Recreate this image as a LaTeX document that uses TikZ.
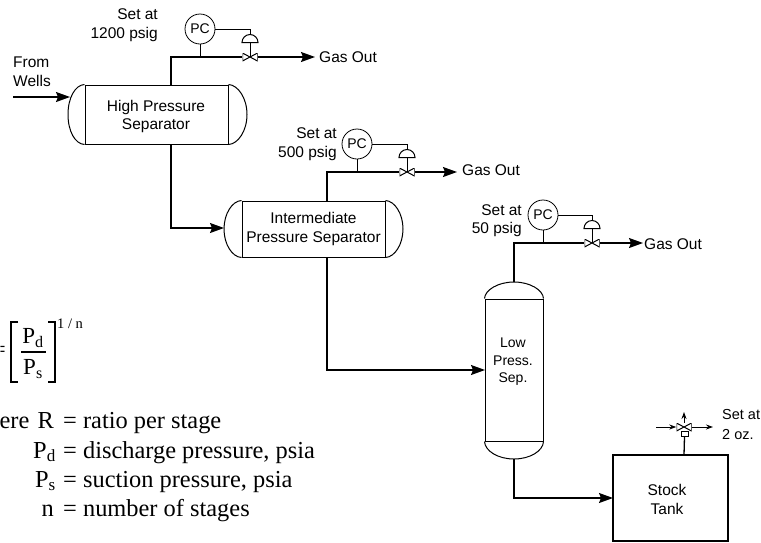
\documentclass[tikz,border=0pt]{standalone}
\usepackage{fontspec}
\setmainfont{Liberation Sans}
\newfontfamily\serifface{Liberation Serif}
\usetikzlibrary{arrows.meta, shapes.geometric, calc}

\begin{document}
\begin{tikzpicture}[
    x=1pt, y=-1pt,
    lbl/.style={inner sep=0pt, font=\fontsize{15.5}{17}\selectfont, text=black},
    lblr/.style={lbl, anchor=east},
    lbll/.style={lbl, anchor=west},
    formula/.style={inner sep=0pt, font=\fontsize{24.4}{26}\selectfont\serifface, text=black},
    vessel/.style={rectangle, draw=black, line width=1pt, inner sep=0pt, font=\fontsize{15.5}{18.5}\selectfont, text=black, align=center},
    head/.style={draw=black, line width=1pt},
    tank/.style={rectangle, draw=black, line width=1.1pt, inner sep=0pt, minimum width=115pt, minimum height=86pt},
    pc/.style={circle, draw=black, line width=0.8pt, inner sep=0pt, minimum size=30pt, font=\fontsize{14}{16}\selectfont, text=black},
    valve/.style={inner sep=0pt, minimum width=15pt, minimum height=8pt, path picture={
        \draw[black, line width=1pt, fill=white] (path picture bounding box.north west) -- (path picture bounding box.south east) -- (path picture bounding box.north east) -- (path picture bounding box.south west) -- cycle;}},
    dome/.style={semicircle, draw=black, line width=1pt, inner sep=0pt, minimum width=15pt, minimum height=8pt},
    pipe/.style={draw=black, line width=1.3pt},
    signal/.style={draw=black, line width=0.8pt},
    arrow/.style={pipe, -{Stealth[length=14pt, width=10pt, inset=2pt]}},
    smallarrow/.style={draw=black, line width=0.9pt, -{Stealth[length=7pt, width=5pt]}},
    bracket/.style={draw=black, line width=1.1pt}
]
\useasboundingbox (0,0) rectangle (761,542);

% vessels
\node (hp) [vessel, minimum width=143pt, minimum height=59pt] at (156.5,114.5) {};
\node (hplbl) [lbl, align=center, font=\fontsize{15.5}{18.5}\selectfont] at (156,116.5) {High Pressure\\Separator};
\draw [head] (hp.north west) .. controls (75,85) and (68,98) .. (68,114.5) .. controls (68,131) and (75,144) .. (hp.south west);
\draw [head] (hp.north east) .. controls (238,85) and (247,98) .. (247,114.5) .. controls (247,131) and (238,144) .. (hp.south east);
\node (ip) [vessel, minimum width=143pt, minimum height=56pt] at (313.5,229) {Intermediate\\Pressure Separator};
\draw [head] (ip.north west) .. controls (232,201) and (224,214) .. (224,229) .. controls (224,244) and (232,257) .. (ip.south west);
\draw [head] (ip.north east) .. controls (395,201) and (403,214) .. (403,229) .. controls (403,244) and (395,257) .. (ip.south east);
\node (lp) [vessel, minimum width=58pt, minimum height=142pt] at (514,370) {};
\node (lplbl) [lbl, font=\fontsize{14}{17.5}\selectfont, align=center] at (513,362) {Low\\Press.\\Sep.};
\draw [head] (lp.north west) .. controls (485,290) and (498,282) .. (514,282) .. controls (530,282) and (543,290) .. (lp.north east);
\draw [head] (lp.south west) .. controls (485,451) and (498,459) .. (514,459) .. controls (530,459) and (543,451) .. (lp.south east);
\node (st) [tank] at (670.5,498) {};
\node (stlbl) [lbl, align=center, font=\fontsize{15.5}{19}\selectfont] at (667,499) {Stock\\Tank};

% pressure control stations
\node (pc1) [pc] at (200,29) {PC};
\node (v1) [valve] at (250,57) {};
\node (d1) [dome, anchor=chord center] at (250,43) {};
\node (gas1) [lbll] at (319,57) {Gas Out};
\node (pc2) [pc] at (357,144) {PC};
\node (v2) [valve] at (407,172) {};
\node (d2) [dome, anchor=chord center] at (407,158) {};
\node (gas2) [lbll] at (462,170) {Gas Out};
\node (pc3) [pc] at (543,215) {PC};
\node (v3) [valve] at (592,243) {};
\node (d3) [dome, anchor=chord center] at (592,229) {};
\node (gas3) [lbll] at (644,244) {Gas Out};

\node (set1a) [lblr] at (158,14) {Set at};
\node (set1b) [lblr] at (158,34) {1200 psig};
\node (set2a) [lblr] at (337,133) {Set at};
\node (set2b) [lblr] at (337,153) {500 psig};
\node (set3a) [lblr] at (522,210) {Set at};
\node (set3b) [lblr] at (522,229) {50 psig};
\node (from) [lbll] at (13,62) {From};
\node (wells) [lbll] at (13,81) {Wells};

% feed and liquid lines
\coordinate (feed) at (13,97);
\coordinate (hpin) at (70,97);
\coordinate (hptop) at (171,85);
\coordinate (hpbot) at (171,144);
\coordinate (ipin) at (224,228);
\coordinate (iptop) at (327,201);
\coordinate (ipbot) at (327,257);
\coordinate (lpin) at (485,370);
\coordinate (lptop) at (514,282);
\coordinate (lpbot) at (514,459);
\coordinate (stin) at (613,498);
\draw [arrow] (feed) -- (hpin);
\draw [arrow] (hpbot) |- (ipin);
\draw [arrow] (ipbot) |- (lpin);
\draw [arrow] (lpbot) |- (stin);

% gas lines
\draw [pipe] (hptop) |- (v1.west);
\draw [arrow, shorten >=4pt] (v1.east) -- (gas1.west);
\draw [signal] (pc1.south) -- (pc1 |- v1);
\draw [signal] (pc1.east) -| (d1.apex);
\draw [signal] (d1.chord center) -- (v1.center);
\draw [pipe] (iptop) |- (v2.west);
\draw [arrow, shorten >=5pt] (v2.east) -- (gas2.west |- v2);
\draw [signal] (pc2.south) -- (pc2 |- v2);
\draw [signal] (pc2.east) -| (d2.apex);
\draw [signal] (d2.chord center) -- (v2.center);
\draw [pipe] (lptop) |- (v3.west);
\draw [arrow, shorten >=1pt] (v3.east) -- (gas3.west |- v3);
\draw [signal] (pc3.south) -- (pc3 |- v3);
\draw [signal] (pc3.east) -| (d3.apex);
\draw [signal] (d3.chord center) -- (v3.center);

% tank vent
\node (vent) [valve] at (684,427) {};
\node (ventbox) [rectangle, draw=black, line width=0.9pt, fill=white, inner sep=0pt, minimum width=7pt, minimum height=5pt] at (684.5,434) {};
\coordinate (ventin) at (656,427);
\coordinate (ventout) at (713,427);
\coordinate (venttop) at (684,412);
\coordinate (sttop) at (684,455);
\draw [smallarrow] (ventin) -- (vent.west);
\draw [smallarrow] (vent.east) -- (ventout);
\draw [smallarrow] (vent.north) -- (venttop);
\draw [pipe] (sttop) -- (ventbox.south);
\node (set4a) [lbll, font=\fontsize{14.5}{17}\selectfont] at (722,414) {Set at};
\node (set4b) [lbll, font=\fontsize{14.5}{17}\selectfont] at (722,434) {2 oz.};

% ratio formula
\node (eq) [formula, anchor=west] at (0,352) {\scalebox{0.36}[1]{=}};
\draw [bracket] (18,322) -- (11,322) -- (11,382) -- (18,382);
\draw [bracket] (48,322) -- (55,322) -- (55,382) -- (48,382);
\node (pd) [formula, font=\fontsize{23}{25}\selectfont\serifface] at (33,338) {P\textsubscript{d}};
\node (ps) [formula, font=\fontsize{23}{25}\selectfont\serifface] at (33,369) {P\textsubscript{s}};
\coordinate (fracl) at (21,352);
\coordinate (fracr) at (46,352);
\draw [bracket] (fracl) -- (fracr);
\node (exp) [formula, font=\fontsize{14.5}{17}\selectfont\serifface, anchor=west] at (57,324) {1 / n};

% legend
\node (wr) [formula, anchor=base east] at (54,428) {ere\hspace{2pt} R};
\node (wrt) [formula, anchor=base west] at (63,428) {= ratio per stage};
\node (wd) [formula, anchor=base east] at (56,458) {P\textsubscript{d}};
\node (wdt) [formula, anchor=base west] at (63,458) {= discharge pressure, psia};
\node (ws) [formula, anchor=base east] at (56,487) {P\textsubscript{s}};
\node (wst) [formula, anchor=base west] at (63,487) {= suction pressure, psia};
\node (wn) [formula, anchor=base east] at (54,516) {n};
\node (wnt) [formula, anchor=base west] at (63,516) {= number of stages};
\end{tikzpicture}
\end{document}
